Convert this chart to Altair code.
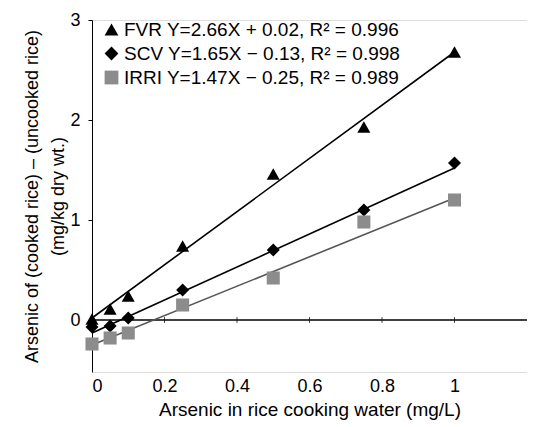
import altair as alt
import pandas as pd

series_names = [
    "FVR Y=2.66X + 0.02, R² = 0.996",
    "SCV Y=1.65X − 0.13, R² = 0.998",
    "IRRI Y=1.47X − 0.25, R² = 0.989",
]
x_vals = [0, 0.05, 0.1, 0.25, 0.5, 0.75, 1.0]
fvr = [0.01, 0.11, 0.24, 0.74, 1.46, 1.93, 2.68]
scv = [-0.07, -0.06, 0.02, 0.30, 0.70, 1.10, 1.57]
irri = [-0.24, -0.18, -0.13, 0.15, 0.42, 0.98, 1.20]
slopes = [2.66, 1.65, 1.47]
intercepts = [0.02, -0.13, -0.25]
colors = ["#000000", "#000000", "#8c8c8c"]
line_colors = ["#000000", "#000000", "#555555"]
shapes = ["triangle-up", "diamond", "square"]
x_ticks = [0, 0.2, 0.4, 0.6, 0.8, 1.0]

rows = []
for name, ys in zip(series_names, [fvr, scv, irri]):
    for x, y in zip(x_vals, ys):
        rows.append({"series": name, "x": x, "y": y})
pts = pd.DataFrame(rows)

lrows = []
for i, (name, a, b) in enumerate(zip(series_names, slopes, intercepts)):
    for x in [0.0, 1.0]:
        lrows.append({"sid": i, "x": x, "y": a * x + b})
lines = pd.DataFrame(lrows)

zero_df = pd.DataFrame({"x": [0.0], "x2": [1.2], "y": [0.0]})
tick_df = pd.DataFrame({"x": x_ticks[1:], "y": [0.0] * 5})

xs = alt.Scale(domain=[0, 1.2], nice=False, zero=False)
ys = alt.Scale(domain=[-0.52, 3], nice=False, zero=False)
FONT = "Liberation Sans"

x_axis = alt.Axis(values=x_ticks, domain=False, ticks=False, grid=False,
                  labelFontSize=18, labelFont=FONT, labelColor="black",
                  labelPadding=5, title="Arsenic in rice cooking water (mg/L)",
                  titleFontSize=19, titleFont=FONT, titleFontWeight="normal",
                  titleColor="black", titlePadding=5,
                  labelExpr="datum.value == 1 ? '1' : (datum.value == 0 ? '0' : format(datum.value, '.1f'))")
y_axis = alt.Axis(values=[0, 1, 2, 3], format="d", grid=False, domainColor="black",
                  tickColor="black", tickSize=4, labelFontSize=18, labelFont=FONT,
                  labelColor="black", labelPadding=8,
                  title=["Arsenic of (cooked rice) – (uncooked rice)", "(mg/kg dry wt.)"],
                  titleFontSize=18, titleFont=FONT, titleFontWeight="normal",
                  titleColor="black", titlePadding=2, titleLineHeight=26)

legend = alt.Legend(title=None, orient="none", legendX=10, legendY=0, padding=0,
                    labelFontSize=19, labelFont=FONT, labelColor="black",
                    symbolSize=190, rowPadding=4, labelOffset=3,
                    symbolStrokeWidth=0, labelLimit=400)

line_layers = []
for i, lc in enumerate(line_colors):
    line_layers.append(
        alt.Chart(lines).transform_filter(alt.datum.sid == i)
        .mark_line(strokeWidth=1.6, color=lc)
        .encode(x=alt.X("x:Q", scale=xs, axis=x_axis), y=alt.Y("y:Q", scale=ys, axis=y_axis))
    )

zero_layer = alt.Chart(zero_df).mark_rule(color="black", strokeWidth=1.6).encode(
    x=alt.X("x:Q", scale=xs, axis=x_axis), x2="x2:Q", y=alt.Y("y:Q", scale=ys, axis=y_axis)
)
tick_layer = alt.Chart(tick_df).mark_tick(color="black", orient="vertical", size=6, thickness=1).encode(
    x="x:Q", y="y:Q"
)

point_layer = alt.Chart(pts).mark_point(filled=True, size=170, opacity=1).encode(
    x="x:Q",
    y="y:Q",
    color=alt.Color("series:N", scale=alt.Scale(domain=series_names, range=colors), legend=legend),
    shape=alt.Shape("series:N", scale=alt.Scale(domain=series_names, range=shapes), legend=legend),
)

chart = alt.layer(zero_layer, tick_layer, *line_layers, point_layer).properties(
    width=435, height=352,
    autosize=alt.AutoSizeParams(type="none"),
    padding={"left": 84, "top": 12, "right": 0, "bottom": 55},
).configure_view(stroke=None).configure(background="white")

chart.save("out.html", embed_options={"renderer": "svg", "actions": False})
